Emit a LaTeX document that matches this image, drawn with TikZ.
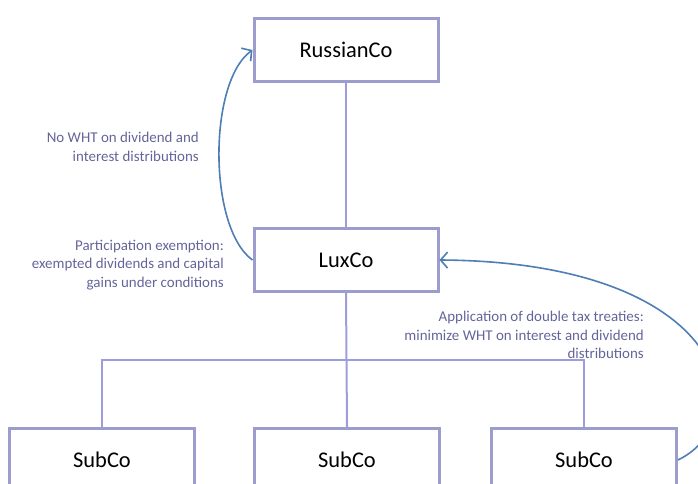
\documentclass[tikz,border=0pt]{standalone}
\usepackage{fontspec}
\setmainfont{Carlito}
\usetikzlibrary{arrows.meta}
\definecolor{boxc}{HTML}{9C9CCF}
\definecolor{linec}{HTML}{9D9DDC}
\definecolor{arrc}{HTML}{4F7DB5}
\definecolor{labc}{HTML}{64649A}
\tikzset{
  entity/.style={draw=boxc, line width=3bp, fill=white, minimum width=184bp, minimum height=63bp, inner sep=0pt, font=\fontsize{22.5}{26}\selectfont},
  subent/.style={entity, minimum width=185bp},
  tree/.style={draw=linec, line width=2bp},
  flow/.style={draw=arrc, line width=1.6bp, -{Straight Barb[length=7bp,width=16bp,line width=1.6bp]}},
  lab/.style={text=labc, align=right, anchor=north east, inner sep=0pt, font=\fontsize{15}{18.5}\selectfont}
}
\begin{document}
\begin{tikzpicture}[x=1bp,y=-1bp]
\useasboundingbox (0,0) rectangle (698,484);
\coordinate (bus) at (346,360);
\node[entity] (rus) at (346,50) {RussianCo};
\node[entity] (lux) at (346,260) {LuxCo};
\node[subent] (s1) at (102,460) {SubCo};
\node[subent] (s2) at (347,460) {SubCo};
\node[subent] (s3) at (584,460) {SubCo};
\draw[tree] (rus.south) -- (lux.north);
\draw[tree] (lux.south) -- (s2.north);
\draw[tree] (s1.north) |- (bus) -| (s3.north);
\draw[flow] (lux.west) .. controls (208,228) and (208,82) .. (rus.west);
\draw[flow] (s3.east) .. controls (760,420) and (730,262) .. (lux.east);
\node[lab] (l1) at (199,132) {No WHT on dividend and\\interest distributions};
\node[lab] (l2) at (224,240) {Participation exemption:\\exempted dividends and capital\\gains under conditions};
\node[lab] (l3) at (644,311) {Application of double tax treaties:\\minimize WHT on interest and dividend\\distributions};
\end{tikzpicture}
\end{document}
